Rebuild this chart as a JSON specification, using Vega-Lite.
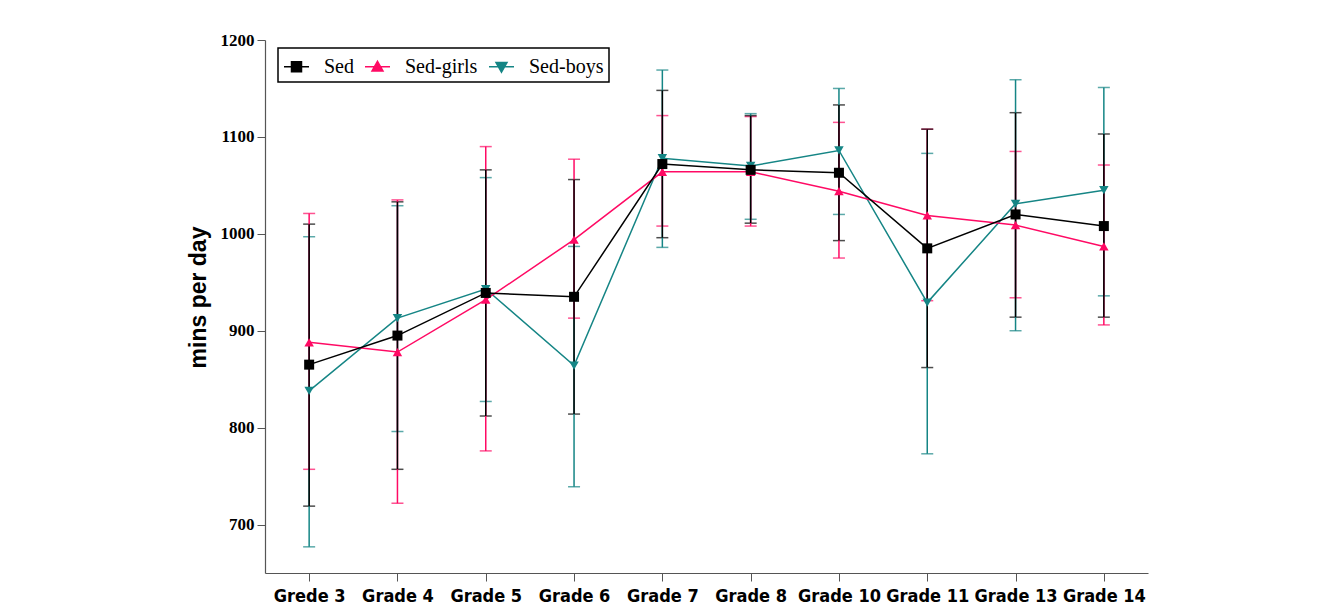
{
  "$schema": "https://vega.github.io/schema/vega-lite/v6.json",
  "autosize": {"type": "none"},
  "width": 883,
  "height": 533,
  "padding": {"left": 265, "top": 40, "right": 171, "bottom": 35},
  "background": "white",
  "config": {
    "view": {"stroke": null},
    "axis": {"domainColor": "#555555", "tickColor": "#555555", "grid": false}
  },
  "data": {
    "values": [
      {"grade": "Grede 3", "series": "Sed-boys", "mean": 838, "lo": 677, "hi": 997},
      {"grade": "Grade 4", "series": "Sed-boys", "mean": 913, "lo": 796, "hi": 1029},
      {"grade": "Grade 5", "series": "Sed-boys", "mean": 943, "lo": 827, "hi": 1058},
      {"grade": "Grade 6", "series": "Sed-boys", "mean": 864, "lo": 739, "hi": 987},
      {"grade": "Grade 7", "series": "Sed-boys", "mean": 1078, "lo": 986, "hi": 1169},
      {"grade": "Grade 8", "series": "Sed-boys", "mean": 1070, "lo": 1015, "hi": 1124},
      {"grade": "Grade 10", "series": "Sed-boys", "mean": 1086, "lo": 1020, "hi": 1150},
      {"grade": "Grade 11", "series": "Sed-boys", "mean": 929, "lo": 773, "hi": 1083},
      {"grade": "Grade 13", "series": "Sed-boys", "mean": 1031, "lo": 900, "hi": 1159},
      {"grade": "Grade 14", "series": "Sed-boys", "mean": 1045, "lo": 936, "hi": 1151},
      {"grade": "Grede 3", "series": "Sed-girls", "mean": 888, "lo": 757, "hi": 1021},
      {"grade": "Grade 4", "series": "Sed-girls", "mean": 878, "lo": 722, "hi": 1035},
      {"grade": "Grade 5", "series": "Sed-girls", "mean": 932, "lo": 776, "hi": 1090},
      {"grade": "Grade 6", "series": "Sed-girls", "mean": 994, "lo": 913, "hi": 1077},
      {"grade": "Grade 7", "series": "Sed-girls", "mean": 1064, "lo": 1008, "hi": 1122},
      {"grade": "Grade 8", "series": "Sed-girls", "mean": 1064, "lo": 1008, "hi": 1121},
      {"grade": "Grade 10", "series": "Sed-girls", "mean": 1044, "lo": 975, "hi": 1115},
      {"grade": "Grade 11", "series": "Sed-girls", "mean": 1019, "lo": 931, "hi": 1108},
      {"grade": "Grade 13", "series": "Sed-girls", "mean": 1009, "lo": 934, "hi": 1085},
      {"grade": "Grade 14", "series": "Sed-girls", "mean": 987, "lo": 906, "hi": 1071},
      {"grade": "Grede 3", "series": "Sed", "mean": 865, "lo": 719, "hi": 1010},
      {"grade": "Grade 4", "series": "Sed", "mean": 895, "lo": 757, "hi": 1033},
      {"grade": "Grade 5", "series": "Sed", "mean": 939, "lo": 812, "hi": 1066},
      {"grade": "Grade 6", "series": "Sed", "mean": 935, "lo": 814, "hi": 1056},
      {"grade": "Grade 7", "series": "Sed", "mean": 1072, "lo": 996, "hi": 1148},
      {"grade": "Grade 8", "series": "Sed", "mean": 1066, "lo": 1011, "hi": 1122},
      {"grade": "Grade 10", "series": "Sed", "mean": 1063, "lo": 993, "hi": 1133},
      {"grade": "Grade 11", "series": "Sed", "mean": 985, "lo": 862, "hi": 1108},
      {"grade": "Grade 13", "series": "Sed", "mean": 1020, "lo": 914, "hi": 1125},
      {"grade": "Grade 14", "series": "Sed", "mean": 1008, "lo": 914, "hi": 1103}
    ]
  },
  "encoding": {
    "x": {
      "field": "grade",
      "type": "nominal",
      "sort": ["Grede 3", "Grade 4", "Grade 5", "Grade 6", "Grade 7", "Grade 8", "Grade 10", "Grade 11", "Grade 13", "Grade 14"],
      "scale": {"type": "point", "padding": 0.5},
      "axis": {
        "title": null,
        "labelAngle": 0,
        "labelFont": "'Liberation Sans Narrow', 'DejaVu Sans Condensed', 'Liberation Sans', sans-serif",
        "labelFontWeight": "bold",
        "labelFontSize": 18,
        "labelColor": "black",
        "labelPadding": 6,
        "tickSize": 8,
        "ticks": true,
        "domainWidth": 1.2
      }
    },
    "color": {
      "field": "series",
      "type": "nominal",
      "scale": {"domain": ["Sed", "Sed-girls", "Sed-boys"], "range": ["#000000", "#ff0a64", "#158585"]},
      "legend": {
        "title": null,
        "orient": "none",
        "legendX": 13,
        "legendY": 8,
        "direction": "horizontal",
        "strokeColor": "black",
        "padding": 5,
        "labelFont": "Liberation Serif",
        "labelFontSize": 20,
        "labelColor": "black",
        "labelOffset": 14,
        "columnPadding": 8,
        "symbolSize": 625,
        "symbolStrokeWidth": 1.5,
        "symbolOpacity": 1,
        "fillColor": "white",
        "encode": {
          "legend": {"update": {"strokeWidth": {"value": 1.5}}},
          "symbols": {
            "update": {
              "shape": {"signal": "datum.value === 'Sed' ? 'M-1,0H1M-0.4,-0.4H0.4V0.4H-0.4Z' : (datum.value === 'Sed-girls' ? 'M-1,0H1M0,-0.44L0.44,0.34H-0.44Z' : 'M-1,0H1M0,0.44L0.44,-0.34H-0.44Z')"},
              "fill": {"signal": "scale('color', datum.value)"},
              "stroke": {"signal": "scale('color', datum.value)"}
            }
          }
        }
      }
    }
  },
  "layer": [
    {
      "mark": {"type": "errorbar", "ticks": {"size": 12, "thickness": 1.5}, "rule": {"strokeWidth": 1.5}},
      "encoding": {
        "y": {
          "field": "lo",
          "type": "quantitative",
          "scale": {"domain": [650, 1200], "nice": false, "zero": false},
          "axis": {
            "title": "mins per day",
            "titleFont": "Liberation Sans",
            "titleFontWeight": "bold",
            "titleFontSize": 23,
            "titleColor": "black",
            "titlePadding": 10,
            "titleY": 257,
            "values": [700, 800, 900, 1000, 1100, 1200],
            "format": "d",
            "labelFont": "Liberation Serif",
            "labelFontWeight": "bold",
            "labelFontSize": 17,
            "labelColor": "black",
            "tickSize": 8,
            "labelPadding": 3,
            "domainWidth": 1.2
          }
        },
        "y2": {"field": "hi"}
      }
    },
    {
      "mark": {"type": "line", "strokeWidth": 1.5},
      "encoding": {
        "y": {"field": "mean", "type": "quantitative"}
      }
    },
    {
      "transform": [{"filter": "datum.series === 'Sed-boys'"}],
      "mark": {"type": "point", "filled": true, "opacity": 1, "size": 90, "shape": "triangle-down"},
      "encoding": {"y": {"field": "mean", "type": "quantitative"}}
    },
    {
      "transform": [{"filter": "datum.series === 'Sed-girls'"}],
      "mark": {"type": "point", "filled": true, "opacity": 1, "size": 90, "shape": "triangle-up"},
      "encoding": {"y": {"field": "mean", "type": "quantitative"}}
    },
    {
      "transform": [{"filter": "datum.series === 'Sed'"}],
      "mark": {"type": "point", "filled": true, "opacity": 1, "size": 100, "shape": "square"},
      "encoding": {"y": {"field": "mean", "type": "quantitative"}}
    }
  ]
}
